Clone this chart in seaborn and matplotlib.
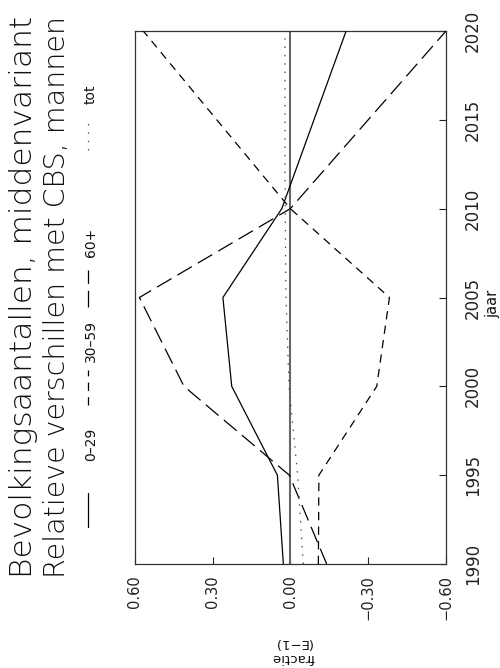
import matplotlib
matplotlib.use("Agg")
import matplotlib.pyplot as plt
import seaborn as sns
import pandas as pd
from matplotlib.lines import Line2D

# ---- data ----
jaren = [1990, 1995, 2000, 2005, 2010, 2020]
groep_0_29 = [0.027, 0.050, 0.226, 0.260, 0.033, -0.215]
groep_30_59 = [-0.108, -0.110, -0.333, -0.382, 0.000, 0.567]
groep_60_plus = [-0.140, 0.004, 0.410, 0.582, 0.000, -0.600]
groep_tot = [-0.050, -0.028, 0.005, 0.017, 0.020, 0.021]

series_namen = ["0–29", "30–59", "60+", "tot"]
fractie_ticks = [0.60, 0.30, 0.00, -0.30, -0.60]
fractie_labels = ["0.60", "0.30", "0.00", "−0.30", "−0.60"]
jaar_ticks = [1990, 1995, 2000, 2005, 2010, 2015, 2020]
jaar_labels = ["1990", "1995", "2000", "2005", "2010", "2015", "2020"]
titel1 = "Bevolkingsaantallen, middenvariant"
titel2 = "Relatieve verschillen met CBS, mannen"
x_label = "fractie\n(E−1)"
y_label = "jaar"

df = pd.concat([
    pd.DataFrame({"jaar": jaren, "fractie": v, "groep": n})
    for n, v in zip(series_namen, [groep_0_29, groep_30_59, groep_60_plus, groep_tot])
], ignore_index=True)

# ---- styling ----
sns.set_theme(style="white")
plt.rcParams['font.family'] = ['DejaVu Sans']
plt.rcParams['lines.scale_dashes'] = False

stijlen = {
    "0–29": dict(linestyle="-", color="black", lw=0.9),
    "30–59": dict(linestyle=(0, (6, 4.5)), color="black", lw=0.9),
    "60+": dict(linestyle=(0, (12, 5)), color="black", lw=0.9),
    "tot": dict(linestyle=(0, (1, 5)), color="#444444", lw=0.9),
}

W, H = 500, 668
fig = plt.figure(figsize=(W / 100, H / 100), dpi=100)
fig.patch.set_facecolor("white")

# axes is drawn rotated: years run upward, fractie runs right-to-left
ax_l, ax_r, ax_t, ax_b = 134.7, 446.0, 31.0, 564.0
ax = fig.add_axes([ax_l / W, 1 - ax_b / H, (ax_r - ax_l) / W, (ax_b - ax_t) / H])
ax.set_facecolor("white")

ax.axvline(0, color="#666666", lw=1.5, zorder=1)

for naam in series_namen:
    sub = df[df["groep"] == naam]
    sns.lineplot(data=sub, x="fractie", y="jaar", orient="y", ax=ax,
                 errorbar=None, legend=False, zorder=3, **stijlen[naam])

ax.set_xlim(0.6, -0.6)
ax.set_ylim(1990, 2020)
ax.set_xlabel("")
ax.set_ylabel("")

ax.set_xticks(fractie_ticks)
ax.set_xticklabels(fractie_labels, rotation=90, fontsize=10.5)
ax.tick_params(axis="x", direction="in", length=5, width=0.8, pad=8,
               bottom=True, top=False, colors="#222222")

ax.yaxis.tick_right()
ax.set_yticks(jaar_ticks)
ax.set_yticklabels(jaar_labels, rotation=90, va="center", fontsize=12)
ax.tick_params(axis="y", direction="in", length=5, width=0.8, pad=13,
               right=True, left=False, colors="#222222")

for s in ax.spines.values():
    s.set_visible(True)
    s.set_color("#333333")
    s.set_linewidth(0.9)

# ---- titles (rotated, thin weight) ----
fig.text(32 / W, 1 - 578 / H, titel1, rotation=90, rotation_mode="anchor",
         ha="left", va="baseline", fontsize=22.5, fontweight=200, color="#111111")
fig.text(65 / W, 1 - 578 / H, titel2, rotation=90, rotation_mode="anchor",
         ha="left", va="baseline", fontsize=20.5, fontweight=200, color="#111111")

# ---- legend row (rotated) ----
leg_items = [
    ("0–29", (493, 527), (428, 460)),
    ("30–59", (370, 405), (322, 360)),
    ("60+", (270, 307), (232, 252)),
    ("tot", (117, 150), (86, 103)),
]
for naam, (s0, s1), (t0, t1) in leg_items:
    st = stijlen[naam]
    fig.add_artist(Line2D([88 / W, 88 / W], [1 - s1 / H, 1 - s0 / H],
                          transform=fig.transFigure, color=st["color"],
                          lw=st["lw"], linestyle=st["linestyle"]))
    fig.text(91 / W, 1 - (t0 + t1) / 2 / H, naam, rotation=90,
             ha="center", va="center", fontsize=10, color="#111111")

# ---- axis labels ----
fig.text(493 / W, 1 - 304 / H, y_label, rotation=90, ha="center",
         va="center", fontsize=10.5, color="#111111")
fig.text(293 / W, 1 - 650 / H, x_label, rotation=180, ha="center",
         va="center", fontsize=9.5, linespacing=1.1, color="#111111")

fig.savefig("out.png", dpi=100, facecolor="white")
